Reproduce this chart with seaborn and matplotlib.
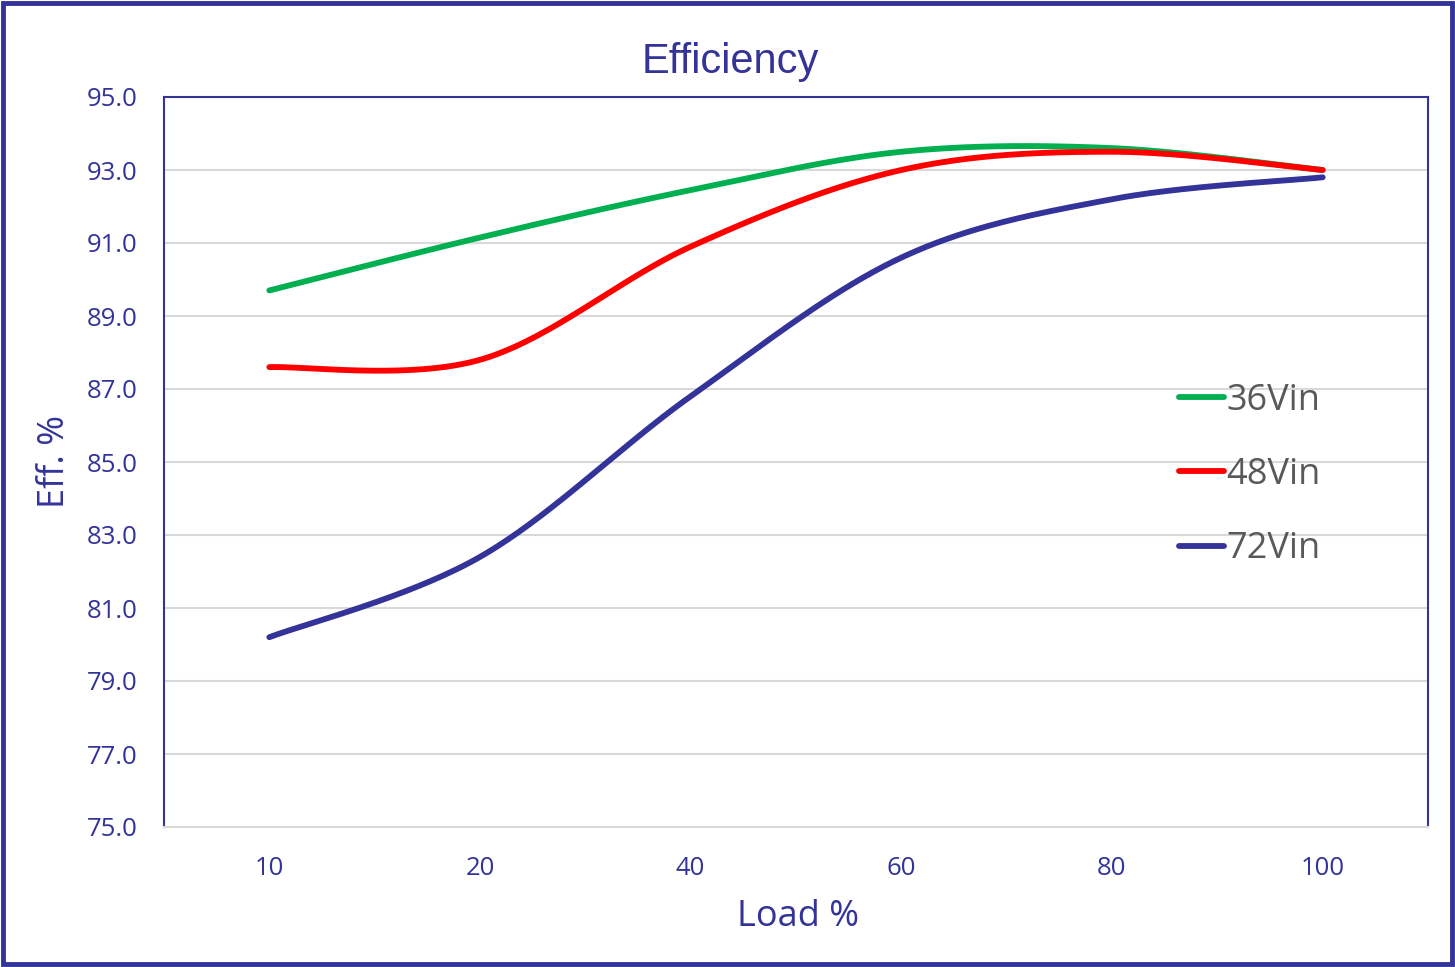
import numpy as np
import pandas as pd
import matplotlib
matplotlib.use("Agg")
import matplotlib.pyplot as plt
import seaborn as sns

loads = ["10", "20", "40", "60", "80", "100"]
eff_36 = [89.7, 91.15, 92.45, 93.5, 93.6, 93.0]
eff_48 = [87.6, 87.8, 90.9, 93.0, 93.5, 93.0]
eff_72 = [80.2, 82.4, 86.8, 90.6, 92.2, 92.8]
series_names = ["36Vin", "48Vin", "72Vin"]
series_colors = ["#00B050", "#FF0000", "#333399"]

NAVY = "#333399"

def smooth(y, n=60):
    # Excel-like smoothed line: Catmull-Rom Bezier in category-index space
    x = np.arange(len(y), dtype=float)
    P = np.column_stack([x, np.asarray(y, float)])
    out = []
    for i in range(len(P) - 1):
        p0 = P[i - 1] if i > 0 else P[i]
        p1 = P[i]
        p2 = P[i + 1]
        p3 = P[i + 2] if i + 2 < len(P) else P[i + 1]
        c1 = p1 + (p2 - p0) / 6.0
        c2 = p2 - (p3 - p1) / 6.0
        t = np.linspace(0, 1, n, endpoint=(i == len(P) - 2))[:, None]
        b = ((1 - t) ** 3) * p1 + 3 * ((1 - t) ** 2) * t * c1 + 3 * (1 - t) * t ** 2 * c2 + t ** 3 * p2
        out.append(b)
    return np.vstack(out)

rows = []
for name, vals in zip(series_names, [eff_36, eff_48, eff_72]):
    pts = smooth(vals)
    for k, (xx, yy) in enumerate(pts):
        rows.append({"series": name, "order": k, "x": xx, "y": yy})
df = pd.DataFrame(rows)

sns.set_theme(style="white")
plt.rcParams["font.family"] = ["Open Sans", "DejaVu Sans"]

fig = plt.figure(figsize=(14.55, 9.67), dpi=100)
ax = fig.add_axes([164 / 1455, (967 - 827) / 967, (1428 - 164) / 1455, (827 - 97) / 967])

sns.lineplot(data=df, x="x", y="y", hue="series", hue_order=series_names,
             palette=series_colors, sort=False, estimator=None, units="series",
             linewidth=4.2, ax=ax, solid_capstyle="round")

ax.set_xlim(-0.5, len(loads) - 0.5)
ax.set_ylim(75, 95)
ax.set_xticks(range(len(loads)))
ax.set_xticklabels(loads)
yt = np.arange(75, 95.1, 2)
ax.set_yticks(yt)
ax.set_yticklabels([f"{v:.1f}" for v in yt])
ax.yaxis.grid(True, color="#D9D9D9", linewidth=1.5, zorder=0)
ax.set_axisbelow(True)
ax.tick_params(axis="both", length=0, labelsize=18.5, colors=NAVY)
ax.tick_params(axis="y", pad=19)
ax.tick_params(axis="x", pad=21)

for s in ["left", "top", "right"]:
    ax.spines[s].set_color(NAVY)
    ax.spines[s].set_linewidth(1.5)
ax.spines["bottom"].set_color("#D9D9D9")
ax.spines["bottom"].set_linewidth(1.5)

ax.set_xlabel("")
ax.set_ylabel("")
fig.text(798 / 1455, 1 - 917 / 967, "Load %", ha="center", va="center", fontsize=26, color=NAVY)
fig.text(55 / 1455, 1 - 462 / 967, "Eff. %", ha="center", va="center", fontsize=26, color=NAVY, rotation=90)
fig.text(730 / 1455, 1 - 62 / 967, "Efficiency", ha="center", va="center", fontsize=30,
         color=NAVY, family=["Liberation Sans", "DejaVu Sans"])

leg = ax.legend(loc="center left", bbox_to_anchor=(1161 / 1455, 1 - 475 / 967),
                bbox_transform=fig.transFigure, frameon=False, fontsize=26,
                handlelength=1.25, handletextpad=0.05, labelspacing=1.06,
                borderpad=0)
for t in leg.get_texts():
    t.set_color("#595959")
for h in leg.get_lines():
    h.set_linewidth(4.2)
    h.set_solid_capstyle("round")

border = plt.Rectangle((0.002, 0.003), 0.996, 0.994, transform=fig.transFigure,
                       fill=False, edgecolor=NAVY, linewidth=3.5)
fig.patches.append(border)

fig.savefig("out.png", dpi=100, facecolor="white")
